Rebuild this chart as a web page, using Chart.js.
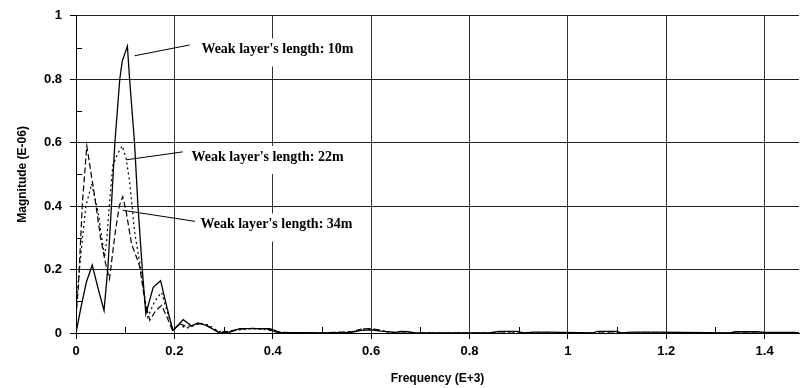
<!DOCTYPE html>
<html>
<head>
<meta charset="utf-8">
<script src="https://cdn.jsdelivr.net/npm/chart.js@4/dist/chart.umd.min.js"></script>
<style>
  html, body { margin: 0; padding: 0; background: #fff; }
  #wrap { width: 801px; height: 388px; }
</style>
</head>
<body>
<div id="wrap"><canvas id="chart" width="801" height="388"></canvas></div>
<script>
// Weak layer's length: 10m (solid)
var freq10 = [0, 0.01, 0.021, 0.033, 0.045, 0.057, 0.065, 0.072, 0.079, 0.089, 0.094, 0.1045, 0.109, 0.119, 0.126, 0.135, 0.142, 0.157, 0.172, 0.185, 0.197, 0.218, 0.235, 0.248, 0.265, 0.292, 0.313, 0.333, 0.394, 0.415, 0.5, 0.56, 0.58, 0.6, 0.62, 0.65, 0.66, 0.675, 0.69, 0.84, 0.86, 0.897, 0.91, 0.93, 0.96, 1.05, 1.06, 1.1, 1.11, 1.13, 1.18, 1.33, 1.34, 1.385, 1.4, 1.46, 1.47];
var mag10  = [0, 0.08, 0.16, 0.214, 0.14, 0.071, 0.21, 0.4, 0.6, 0.8, 0.857, 0.904, 0.8, 0.6, 0.4, 0.196, 0.06, 0.144, 0.165, 0.08, 0.008, 0.042, 0.022, 0.032, 0.024, 0, 0.003, 0.014, 0.014, 0.002, 0, 0.002, 0.008, 0.01, 0.006, 0.002, 0.005, 0.004, 0, 0, 0.005, 0.005, 0, 0.003, 0.003, 0, 0.005, 0.005, 0, 0.003, 0.003, 0, 0.004, 0.004, 0.002, 0.002, 0.001];

// Weak layer's length: 22m (dotted)
var freq22 = [0, 0.01, 0.02, 0.032, 0.045, 0.058, 0.063, 0.068, 0.075, 0.085, 0.094, 0.102, 0.109, 0.113, 0.119, 0.13, 0.138, 0.146, 0.16, 0.174, 0.185, 0.197, 0.21, 0.225, 0.25, 0.27, 0.29, 0.31, 0.33, 0.36, 0.39, 0.41, 0.5, 0.56, 0.585, 0.6, 0.62, 0.64, 0.66, 1.47];
var mag22  = [0.08, 0.25, 0.4, 0.47, 0.38, 0.24, 0.3, 0.41, 0.53, 0.566, 0.59, 0.55, 0.477, 0.415, 0.32, 0.217, 0.13, 0.05, 0.1, 0.128, 0.07, 0.01, 0.025, 0.015, 0.03, 0.025, 0.005, 0.004, 0.01, 0.014, 0.01, 0.002, 0, 0.004, 0.013, 0.012, 0.008, 0.003, 0, 0];

// Weak layer's length: 34m (dashed)
var freq34 = [0, 0.005, 0.013, 0.022, 0.028, 0.038, 0.05, 0.06, 0.068, 0.08, 0.088, 0.095, 0.102, 0.113, 0.126, 0.13, 0.14, 0.15, 0.162, 0.174, 0.185, 0.197, 0.21, 0.225, 0.24, 0.255, 0.27, 0.29, 0.31, 0.33, 0.36, 0.39, 0.41, 0.5, 0.56, 0.58, 0.6, 0.615, 0.63, 0.65, 1.47];
var mag34  = [0.05, 0.15, 0.41, 0.59, 0.53, 0.43, 0.3, 0.22, 0.17, 0.32, 0.4, 0.43, 0.383, 0.28, 0.227, 0.205, 0.1, 0.04, 0.07, 0.087, 0.05, 0.005, 0.03, 0.02, 0.025, 0.03, 0.02, 0.003, 0.005, 0.012, 0.015, 0.012, 0.002, 0, 0.004, 0.012, 0.014, 0.01, 0.004, 0, 0];

// callouts: text, text anchor (x, y), leader from (x, y) to (x, y)
var labelTexts = ["Weak layer's length: 10m", "Weak layer's length: 22m", "Weak layer's length: 34m"];
var labelAt    = [[0.255, 0.894], [0.235, 0.555], [0.253, 0.342]];
var leaderFrom = [[0.119, 0.874], [0.102, 0.546], [0.095, 0.387]];
var leaderTo   = [[0.231, 0.908], [0.217, 0.571], [0.242, 0.352]];

function toPoints(xs, ys) {
  return xs.map(function (x, i) { return { x: x, y: ys[i] }; });
}

var tickFont = { family: 'Liberation Sans', size: 13, weight: 'bold' };

var minorTicks = {
  id: 'minorTicks',
  afterDraw: function (chart) {
    var ctx = chart.ctx, xs = chart.scales.x, ys = chart.scales.y;
    var x0 = xs.getPixelForValue(0), y0 = ys.getPixelForValue(0);
    ctx.save();
    ctx.strokeStyle = '#000';
    ctx.lineWidth = 1;
    ctx.beginPath();
    for (var v = 0.1; v < 1.47; v += 0.2) {
      var px = Math.round(xs.getPixelForValue(v)) + 0.5;
      ctx.moveTo(px, y0);
      ctx.lineTo(px, y0 - 6);
    }
    for (var w = 0.1; w < 1; w += 0.2) {
      var py = Math.round(ys.getPixelForValue(w)) + 0.5;
      ctx.moveTo(x0, py);
      ctx.lineTo(x0 + 6, py);
    }
    ctx.stroke();
    ctx.restore();
  }
};

var callouts = {
  id: 'callouts',
  afterDatasetsDraw: function (chart) {
    var ctx = chart.ctx, xs = chart.scales.x, ys = chart.scales.y;
    ctx.save();
    ctx.font = 'bold 14px "Liberation Serif"';
    ctx.textBaseline = 'middle';
    labelTexts.forEach(function (txt, i) {
      var tx = xs.getPixelForValue(labelAt[i][0]);
      var ty = ys.getPixelForValue(labelAt[i][1]);
      var w = ctx.measureText(txt).width;
      ctx.fillStyle = '#fff';
      ctx.fillRect(tx - 3, ty - 11, w + 8, 28);
      ctx.fillStyle = '#000';
      ctx.fillText(txt, tx, ty);
      ctx.strokeStyle = '#000';
      ctx.lineWidth = 1;
      ctx.beginPath();
      ctx.moveTo(xs.getPixelForValue(leaderFrom[i][0]), ys.getPixelForValue(leaderFrom[i][1]));
      ctx.lineTo(xs.getPixelForValue(leaderTo[i][0]), ys.getPixelForValue(leaderTo[i][1]));
      ctx.stroke();
    });
    ctx.restore();
  }
};

new Chart(document.getElementById('chart'), {
  type: 'line',
  data: {
    datasets: [
      { label: labelTexts[0], data: toPoints(freq10, mag10), borderColor: '#000', borderWidth: 1.3 },
      { label: labelTexts[1], data: toPoints(freq22, mag22), borderColor: '#000', borderWidth: 1.2, borderDash: [2, 3] },
      { label: labelTexts[2], data: toPoints(freq34, mag34), borderColor: '#000', borderWidth: 1.2, borderDash: [6, 3] }
    ]
  },
  options: {
    responsive: false,
    animation: false,
    layout: { padding: { top: 12, right: 2, left: 0, bottom: 0 } },
    elements: { point: { radius: 0 }, line: { tension: 0 } },
    plugins: { legend: { display: false }, tooltip: { enabled: false } },
    scales: {
      x: {
        type: 'linear',
        min: 0,
        max: 1.47,
        afterFit: function (scale) { scale.height = 55; },
        ticks: {
          stepSize: 0.2,
          includeBounds: false,
          padding: 5,
          color: '#000',
          font: tickFont,
          maxRotation: 0,
          callback: function (v) { return Math.round(v * 10) / 10; }
        },
        grid: { color: '#333', lineWidth: 1, tickLength: 6, tickColor: '#000' },
        border: { display: true, color: '#000', width: 1 },
        title: {
          display: true,
          text: 'Frequency (E+3)',
          color: '#000',
          font: { family: 'Liberation Sans', size: 12, weight: 'bold' },
          padding: { top: 0, bottom: 2 }
        }
      },
      y: {
        min: 0,
        max: 1,
        afterFit: function (scale) { scale.width = 76; },
        ticks: {
          stepSize: 0.2,
          padding: 8,
          color: '#000',
          font: tickFont,
          callback: function (v) { return Math.round(v * 10) / 10; }
        },
        grid: { color: '#222', lineWidth: 1, tickLength: 6, tickColor: '#000' },
        border: { display: true, color: '#000', width: 1 },
        title: {
          display: true,
          text: 'Magnitude (E-06)',
          color: '#000',
          font: { family: 'Liberation Sans', size: 12, weight: 'bold' },
          padding: { top: 15, bottom: 0 }
        }
      }
    }
  },
  plugins: [minorTicks, callouts]
});
</script>
</body>
</html>
